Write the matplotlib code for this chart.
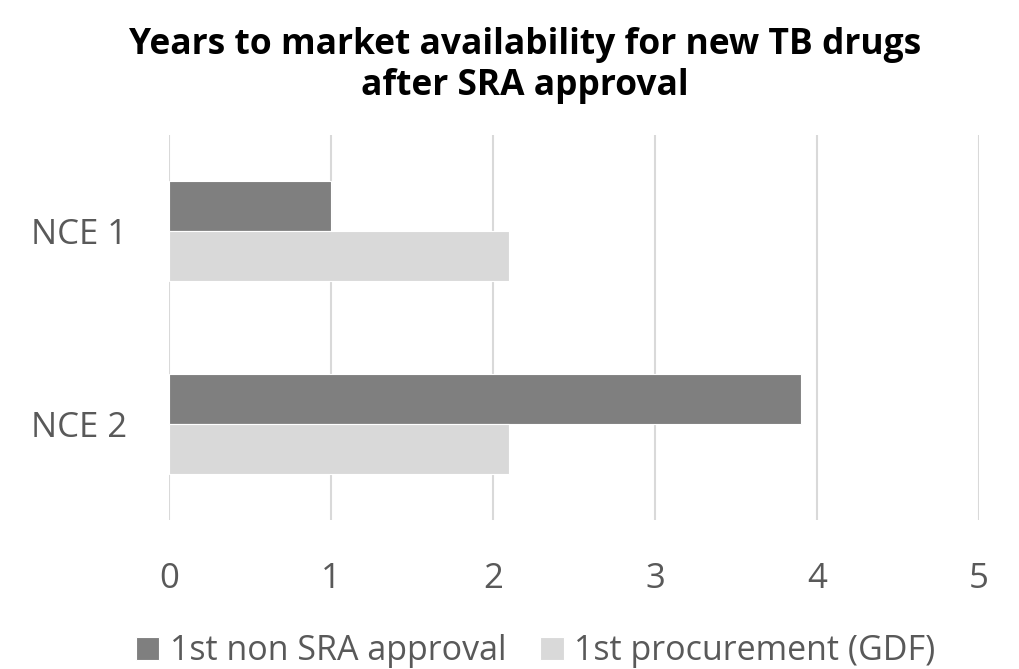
import numpy as np
import matplotlib
matplotlib.use("Agg")
import matplotlib.pyplot as plt

categories = ["NCE 1", "NCE 2"]
non_sra = [1.0, 3.9]
procurement = [2.1, 2.1]
series_labels = ["1st non SRA approval", "1st procurement (GDF)"]

plt.rcParams["font.family"] = ["Open Sans", "DejaVu Sans"]

fig = plt.figure(figsize=(10.2, 6.69), dpi=100)
ax = fig.add_axes([0.1657, 0.2227, 0.7941, 0.5755])

y = np.arange(len(categories))
h = 0.26
ax.barh(y - h / 2, non_sra, height=h, color="#7f7f7f", edgecolor="white",
        linewidth=0.8, label=series_labels[0], zorder=3)
ax.barh(y + h / 2, procurement, height=h, color="#d9d9d9", edgecolor="white",
        linewidth=0.8, label=series_labels[1], zorder=3)

ax.set_xlim(0, 5)
ax.set_ylim(len(categories) - 0.5, -0.5)
ax.set_xticks(range(6))
ax.set_yticks(y)
ax.set_yticklabels(categories)
ax.grid(True, axis="x", color="#d9d9d9", linewidth=1.5, zorder=0)
for s in ax.spines.values():
    s.set_visible(False)
ax.tick_params(length=0, labelsize=25, labelcolor="#595959")
ax.tick_params(axis="x", pad=30)
ax.tick_params(axis="y", pad=30)

fig.suptitle("Years to market availability for new TB drugs\nafter SRA approval",
             x=0.515, y=0.96, fontsize=25.5, fontweight="bold", color="#000000",
             linespacing=1.2)

fig.legend(loc="lower center", bbox_to_anchor=(0.525, -0.045), ncol=2, frameon=False,
           fontsize=24.5, labelcolor="#595959", handlelength=0.7, handleheight=0.7,
           handletextpad=0.3, columnspacing=1.0)

fig.savefig("out.png", dpi=100)
